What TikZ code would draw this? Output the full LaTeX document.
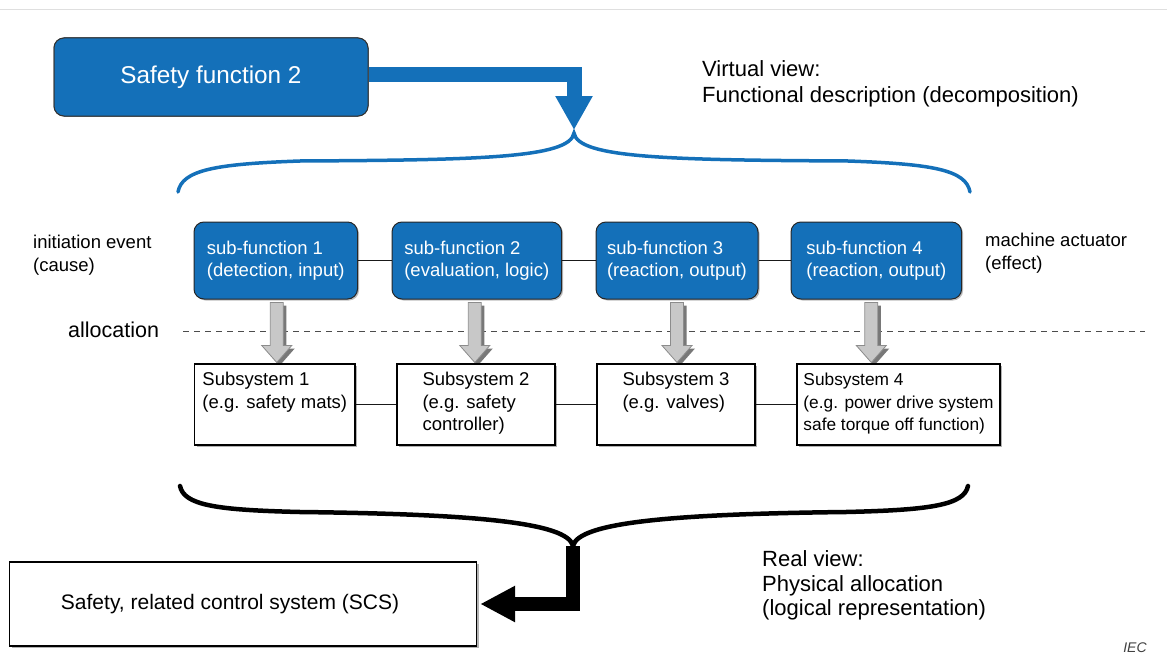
\documentclass[tikz,border=0pt]{standalone}
\usepackage{fontspec}
\setmainfont{Liberation Sans}
\usetikzlibrary{arrows.meta,shadows,calc}
\definecolor{iecblue}{RGB}{20,112,185}
\definecolor{garrowfill}{RGB}{200,200,200}
\definecolor{garrowline}{RGB}{140,140,140}
\definecolor{gshadowc}{RGB}{120,120,120}
\begin{document}
\begin{tikzpicture}[x=1pt,y=-1pt,
  sfmain/.style={draw=black!80, line width=1pt, fill=iecblue, rounded corners=10pt, text=white,
    minimum width=314pt, minimum height=78pt, inner sep=0pt, font=\fontsize{24.3}{29}\selectfont},
  subfn/.style={draw=black!85, line width=1pt, fill=iecblue, rounded corners=10pt, text=white,
    minimum height=77pt, inner sep=0pt, align=left, font=\fontsize{18.5}{22}\selectfont,
    drop shadow={shadow xshift=1.5pt, shadow yshift=-1.5pt, fill=gray!50, opacity=1}},
  ssbox/.style={draw=black, line width=1.4pt, fill=white, minimum height=81pt, inner sep=0pt,
    drop shadow={shadow xshift=2pt, shadow yshift=-2pt, fill=gray!60, opacity=1}},
  sstext/.style={align=left, inner sep=0pt, anchor=north, font=\fontsize{18.5}{22.5}\selectfont},
  lbl/.style={align=left, inner sep=0pt, anchor=west},
  link/.style={line width=1.8pt, draw=black!90},
  garrow/.style={fill=garrowfill, draw=garrowline, line width=0.8pt},
  gshadow/.style={fill=gshadowc, draw=none},
  brace/.style={line width=4.5pt, line cap=round},
  sepline/.style={draw=black!70, line width=1pt, dash pattern=on 6pt off 5pt}
]
\useasboundingbox (0,0) rectangle (1167,669);
\draw[gray!25, line width=0.8pt] (0,9) -- (1167,9);

% blue arrow and main box
\coordinate (btip) at (574,130);
\coordinate (bpk) at (574,133);
\node[sfmain] (sfm) at (211,77) {};
\draw[iecblue, line width=15pt, -{Triangle[width=35pt,length=34pt]}] ([yshift=2.5pt]sfm.east) -| (btip);
\node[sfmain] (sfm2) at (211,77) {Safety function 2};

% blue brace
\draw[iecblue, line width=3.5pt, line cap=round]
  (178,192) .. controls (182,170) and (215,164) .. (300,161)
  .. controls (480,160) and (570,158) .. (bpk)
  .. controls (578,158) and (668,160) .. (848,161)
  .. controls (933,164) and (966,170) .. (970,192);

\node[lbl, font=\fontsize{22}{26}\selectfont] (virt) at (702,84) {Virtual view:\\Functional description (decomposition)};

% sub-functions
\node[subfn, minimum width=163.5pt] (sf1) at (275.75,260.5) {sub-function 1\\(detection, input)};
\node[subfn, minimum width=169.6pt] (sf2) at (476.8,260.5) {sub-function 2\\(evaluation, logic)};
\node[subfn, minimum width=162pt] (sf3) at (677,260.5) {sub-function 3\\(reaction, output)};
\node[subfn, minimum width=170.6pt] (sf4) at (876.3,260.5) {sub-function 4\\(reaction, output)};
\draw[link] (sf1) -- (sf2);
\draw[link] (sf2) -- (sf3);
\draw[link] (sf3) -- (sf4);

\node[lbl, font=\fontsize{18.5}{23}\selectfont] (cause) at (33,255.5) {initiation event\\(cause)};
\node[lbl, font=\fontsize{18.5}{23}\selectfont] (effect) at (985,253.5) {machine actuator\\(effect)};

% allocation line
\node[lbl, font=\fontsize{21.5}{26}\selectfont] (alloc) at (68,330) {allocation};
\coordinate (dl) at (183,331);
\coordinate (dr) at (1145,331);
\draw[sepline] (dl) -- (dr);

% gray arrows
\foreach \i/\dx in {1/1,2/-2,3/0,4/-5}{
  \draw[gshadow] ([shift={(\dx-3.5,6)}]sf\i.south) -- ++(13,0) -- ++(0,43) -- ++(8.5,0) -- ++(-15,17) -- ++(-15,-17) -- ++(8.5,0) -- cycle;
  \draw[garrow] ([shift={(\dx-6.5,3)}]sf\i.south) -- ++(13,0) -- ++(0,43) -- ++(8.5,0) -- ++(-15,17) -- ++(-15,-17) -- ++(8.5,0) -- cycle;
}

% subsystems
\node[ssbox, minimum width=160.4pt] (ss1) at (274.8,404.5) {};
\node[ssbox, minimum width=158pt] (ss2) at (476,404.5) {};
\node[ssbox, minimum width=158pt] (ss3) at (676,404.5) {};
\node[ssbox, minimum width=203pt] (ss4) at (898.5,404.5) {};
\draw[link] (ss1) -- (ss2);
\draw[link] (ss2) -- (ss3);
\draw[link] (ss3) -- (ss4);
\node[sstext] (t1) at ([yshift=-9pt]ss1.north) {Subsystem 1\\(e.g. safety mats)};
\node[sstext] (t2) at ([yshift=-9pt]ss2.north) {Subsystem 2\\(e.g. safety\\controller)};
\node[sstext] (t3) at ([yshift=-9pt]ss3.north) {Subsystem 3\\(e.g. valves)};
\node[sstext, font=\fontsize{17.3}{22.5}\selectfont] (t4) at ([yshift=-9.5pt]ss4.north) {Subsystem 4\\(e.g. power drive system\\safe torque off function)};

% black brace
\coordinate (kpk) at (573,546);
\draw[brace]
  (180,486) .. controls (184,505) and (215,510) .. (300,512)
  .. controls (470,514) and (568,522) .. (kpk)
  .. controls (578,522) and (676,514) .. (846,512)
  .. controls (931,510) and (964,505) .. (968,486);

% SCS box and black arrow
\node[ssbox, minimum width=467pt, minimum height=84pt] (scs) at (243,604) {};
\node[font=\fontsize{21}{25}\selectfont, inner sep=0pt] (scst) at (230,604) {Safety, related control system (SCS)};
\draw[black, line width=14pt, -{Triangle[width=34pt,length=35pt]}] (kpk) |- ([xshift=3pt]scs.east);

\node[lbl, font=\fontsize{22}{24.5}\selectfont] (real) at (762,585.5) {Real view:\\Physical allocation\\(logical representation)};

\node[font=\fontsize{14}{16}\selectfont\itshape, text=black!75, inner sep=0pt] (iec) at (1135,648) {IEC};
\end{tikzpicture}
\end{document}
